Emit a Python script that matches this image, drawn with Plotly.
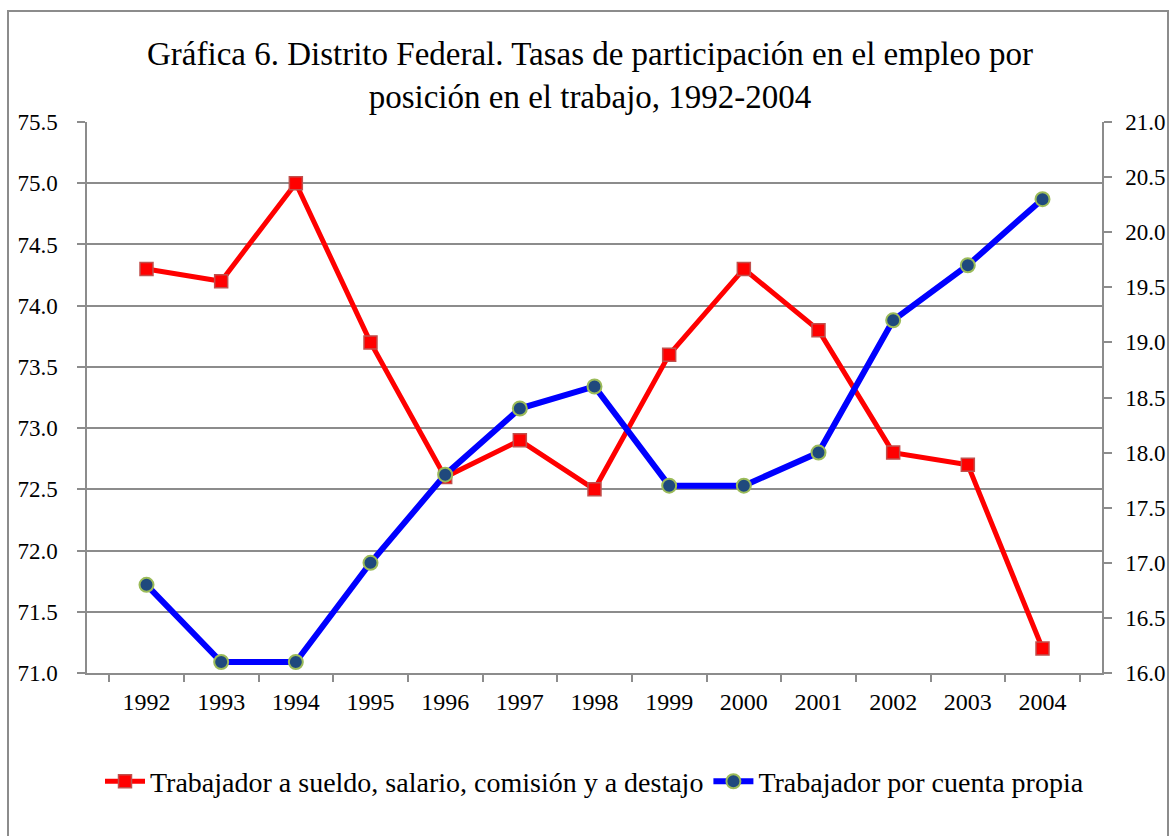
import plotly.graph_objects as go

years = ["1992", "1993", "1994", "1995", "1996", "1997", "1998",
         "1999", "2000", "2001", "2002", "2003", "2004"]
asalariados = [74.3, 74.2, 75.0, 73.7, 72.6, 72.9, 72.5, 73.6, 74.3, 73.8, 72.8, 72.7, 71.2]
cuenta_propia = [16.8, 16.1, 16.1, 17.0, 17.8, 18.4, 18.6, 17.7, 17.7, 18.0, 19.2, 19.7, 20.3]

name_red = "Trabajador a sueldo, salario, comisión y a destajo"
name_blue = "Trabajador por cuenta propia"
title_text = ("Gráfica 6. Distrito Federal. Tasas de participación en el empleo por"
              "<br>posición en el trabajo, 1992-2004")

FONT = "Liberation Serif, Times New Roman, serif"
GRID = "#8c8c8c"

W, H = 1172, 836
L, R, T, B = 87, 70, 122, 163
PW, PH = W - L - R, H - T - B

fig = go.Figure()
fig.add_trace(go.Scatter(
    x=years, y=asalariados, name=name_red, mode="lines+markers",
    line=dict(color="#ff0000", width=5),
    marker=dict(symbol="square", size=13, color="#ff0000",
                line=dict(color="#c0504d", width=1.5)),
    yaxis="y"))
fig.add_trace(go.Scatter(
    x=years, y=cuenta_propia, name=name_blue, mode="lines+markers",
    line=dict(color="#0000ff", width=6),
    marker=dict(symbol="circle", size=14, color="#1f497d",
                line=dict(color="#9bbb59", width=2)),
    yaxis="y2"))

fig.update_layout(
    width=W, height=H,
    margin=dict(l=L, r=R, t=T, b=B, autoexpand=False),
    paper_bgcolor="white", plot_bgcolor="white",
    font=dict(family=FONT, size=23, color="black"),
    title=dict(text=title_text, x=590 / W, xref="container", xanchor="center",
               y=0.922, yref="container", yanchor="top",
               font=dict(family=FONT, size=33, color="black")),
    showlegend=True,
    legend=dict(orientation="h", x=0.5, xanchor="center", xref="paper",
                y=-0.197, yanchor="middle", yref="paper",
                font=dict(family=FONT, size=28, color="black"),
                bgcolor="rgba(0,0,0,0)", itemwidth=40,
                traceorder="normal"),
    xaxis=dict(type="category", tickson="boundaries", ticks="outside",
               ticklen=7, tickcolor=GRID, tickwidth=1.5,
               showline=True, linecolor=GRID, linewidth=1.5,
               showgrid=False, ticklabelstandoff=6,
               tickfont=dict(family=FONT, size=24)),
    yaxis=dict(range=[71.0, 75.5], dtick=0.5, tick0=71.0, tickformat=".1f",
               ticks="outside", ticklen=8, tickcolor=GRID, tickwidth=1.5,
               showline=True, linecolor=GRID, linewidth=1.5,
               showgrid=True, gridcolor=GRID, gridwidth=1.5,
               zeroline=False, ticklabelstandoff=15,
               tickfont=dict(family=FONT, size=23)),
    yaxis2=dict(range=[16.0, 21.0], dtick=0.5, tick0=16.0, tickformat=".1f",
                overlaying="y", side="right",
                ticks="outside", ticklen=8, tickcolor=GRID, tickwidth=1.5,
                showline=True, linecolor=GRID, linewidth=1.5,
                showgrid=False, zeroline=False, ticklabelstandoff=9,
                tickfont=dict(family=FONT, size=23)),
    shapes=[dict(type="rect", xref="paper", yref="paper",
                 x0=(8 - L) / PW, x1=(1168 - L) / PW,
                 y0=-(B + 20) / PH, y1=1 + (T - 11) / PH,
                 line=dict(color=GRID, width=2), layer="below")],
)

fig.write_html(
    "out.html",
    config={"displayModeBar": False},
    post_script="document.documentElement.style.margin='0';"
                "document.body.style.margin='0';"
                "document.body.style.overflow='hidden';"
                "document.documentElement.style.overflow='hidden';",
)
